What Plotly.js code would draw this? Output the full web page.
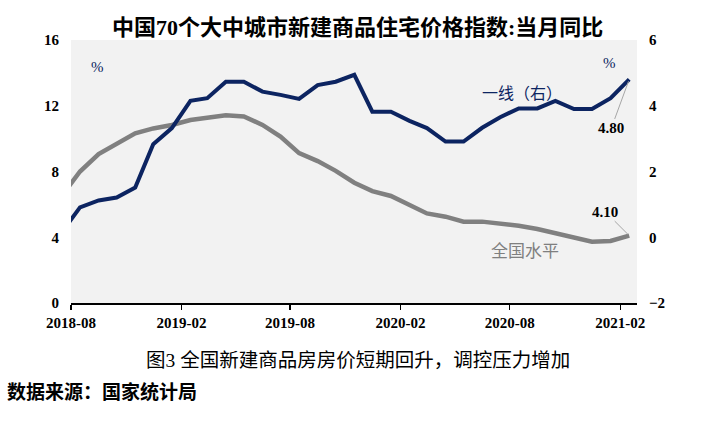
<!DOCTYPE html>
<html>
<head>
<meta charset="utf-8">
<script src="https://cdn.plot.ly/plotly-3.0.1.min.js"></script>
<style>html,body{margin:0;padding:0;background:#fff;}#chart{width:708px;height:422px;}</style>
</head>
<body>
<div id="chart"></div>
<script>
// Months (data points are placed mid-month; 2018-07 is clipped at the left edge)
const months = ["2018-07","2018-08","2018-09","2018-10","2018-11","2018-12",
  "2019-01","2019-02","2019-03","2019-04","2019-05","2019-06","2019-07","2019-08","2019-09","2019-10","2019-11","2019-12",
  "2020-01","2020-02","2020-03","2020-04","2020-05","2020-06","2020-07","2020-08","2020-09","2020-10","2020-11","2020-12",
  "2021-01","2021-02"];
// 一线（右）: right axis, %
const tier1 = [0.14,0.91,1.12,1.21,1.51,2.83,
  3.32,4.15,4.23,4.73,4.73,4.43,4.33,4.21,4.63,4.73,4.94,3.82,
  3.82,3.54,3.32,2.91,2.91,3.33,3.65,3.92,3.92,4.15,3.90,3.90,
  4.23,4.80];
// 全国水平: left axis, %
const national = [6.5,8.0,9.06,9.71,10.32,10.62,
  10.83,11.13,11.29,11.42,11.35,10.83,10.12,9.12,8.63,8.04,7.32,6.81,
  6.51,5.96,5.45,5.25,4.95,4.95,4.85,4.70,4.50,4.24,4.00,3.73,
  3.77,4.10];
const tickMonths = ["2018-08","2019-02","2019-08","2020-02","2020-08","2021-02"];
const titleText = "中国70个大中城市新建商品住宅价格指数:当月同比";
const captionText = "图3 全国新建商品房房价短期回升，调控压力增加";
const sourceText = "数据来源：国家统计局";
const tier1Name = "一线（右）";
const nationalName = "全国水平";

const xs = months.map(m => m + "-16");
const lastX = xs[xs.length - 1];
const serif = "'Liberation Serif', 'Times New Roman', serif";
const cjk = "'Liberation Serif', 'Noto Sans CJK SC', sans-serif";

const traces = [
  {x: xs, y: national, type: "scatter", mode: "lines", name: nationalName,
   line: {color: "#808080", width: 4.5}, yaxis: "y", hoverinfo: "skip"},
  {x: xs, y: tier1, type: "scatter", mode: "lines", name: tier1Name,
   line: {color: "#0c2461", width: 4}, yaxis: "y2", hoverinfo: "skip"}
];

const tickFont = {family: serif, size: 15, color: "#000", weight: "bold"};

const layout = {
  width: 708, height: 422,
  margin: {l: 71, r: 71, t: 40, b: 119},
  paper_bgcolor: "#ffffff",
  plot_bgcolor: "#f2f2f2",
  showlegend: false,
  title: {text: "<b>" + titleText + "</b>", x: 0.505, xanchor: "center",
          y: 1 - 27/422, yanchor: "middle", yref: "container",
          font: {family: cjk, size: 22, color: "#000"}},
  xaxis: {type: "date", range: ["2018-08-01", "2021-03-01"],
          tickvals: tickMonths.map(m => m + "-01"), ticktext: tickMonths,
          showline: true, linecolor: "#000", linewidth: 1.5,
          ticks: "outside", ticklen: 5, tickcolor: "#000", tickwidth: 1.2,
          showgrid: false, zeroline: false, tickfont: tickFont},
  yaxis: {range: [0, 16], dtick: 4, tick0: 0, showgrid: false, zeroline: false,
          showline: false, ticks: "outside", ticklen: 8, tickcolor: "rgba(0,0,0,0)",
          tickfont: tickFont},
  yaxis2: {range: [-2, 6], dtick: 2, tick0: -2, overlaying: "y", side: "right",
           showgrid: false, zeroline: false, showline: false,
           ticks: "outside", ticklen: 8, tickcolor: "rgba(0,0,0,0)",
           tickfont: tickFont},
  annotations: [
    {xref: "paper", yref: "paper", x: 0.046, y: 0.897, xanchor: "center", yanchor: "middle",
     text: "%", showarrow: false, font: {family: serif, size: 15, color: "#0c2461"}},
    {xref: "paper", yref: "paper", x: 0.951, y: 0.913, xanchor: "center", yanchor: "middle",
     text: "%", showarrow: false, font: {family: serif, size: 15, color: "#0c2461"}},
    {xref: "paper", yref: "paper", x: 0.797, y: 0.798, xanchor: "center", yanchor: "middle",
     text: tier1Name, showarrow: false, font: {family: cjk, size: 16, color: "#0c2461"}},
    {xref: "paper", yref: "paper", x: 0.802, y: 0.194, xanchor: "center", yanchor: "middle",
     text: nationalName, showarrow: false, font: {family: cjk, size: 17, color: "#7f7f7f"}},
    {xref: "x", yref: "y2", x: lastX, y: tier1[tier1.length - 1],
     text: tier1[tier1.length - 1].toFixed(2), showarrow: true, arrowhead: 0,
     arrowcolor: "#a6a6a6", arrowwidth: 1, ax: -18, ay: 49, standoff: 2,
     font: {family: serif, size: 15, color: "#000", weight: "bold"}},
    {xref: "x", yref: "y", x: lastX, y: national[national.length - 1],
     text: national[national.length - 1].toFixed(2), showarrow: true, arrowhead: 0,
     arrowcolor: "#a6a6a6", arrowwidth: 1, ax: -24, ay: -24, standoff: 2,
     font: {family: serif, size: 15, color: "#000", weight: "bold"}},
    {xref: "paper", yref: "paper", x: 0.507, y: (303 - 361) / 263, text: captionText,
     showarrow: false, xanchor: "center", yanchor: "middle",
     font: {family: cjk, size: 19.5, color: "#000"}},
    {xref: "paper", yref: "paper", x: (5 - 71) / 566, y: (303 - 392) / 263, text: "<b>" + sourceText + "</b>",
     showarrow: false, xanchor: "left", yanchor: "middle",
     font: {family: cjk, size: 19, color: "#000"}}
  ]
};

Plotly.newPlot("chart", traces, layout, {staticPlot: true, displayModeBar: false});
</script>
</body>
</html>
